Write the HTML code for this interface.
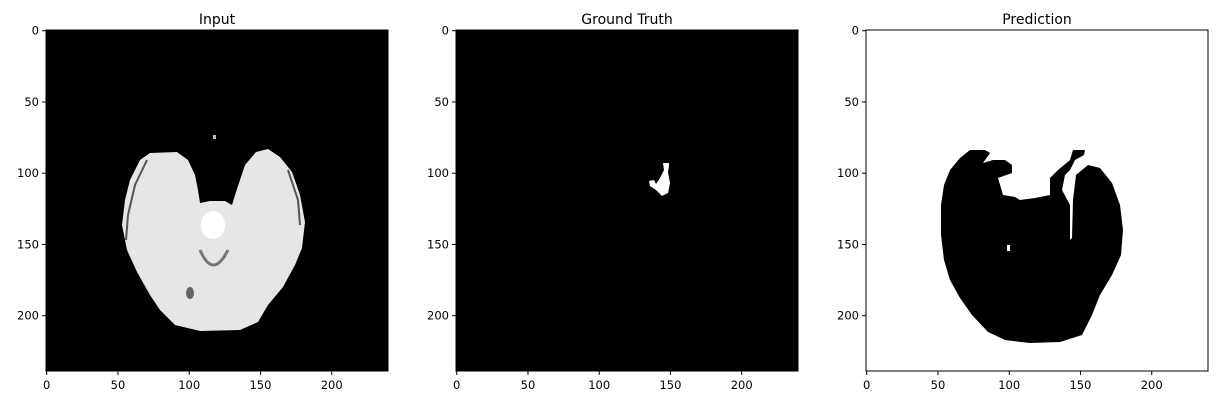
<!DOCTYPE html>
<html><head><meta charset="utf-8"><style>
body{margin:0;background:#fff;width:1222px;height:407px;overflow:hidden}
text{font-family:"DejaVu Sans","Liberation Sans",sans-serif;font-size:11.5px;fill:#000}
.t{font-size:14px}
</style></head><body>
<svg id="s" width="1222" height="407">
<g>
<rect x="46" y="30" width="342" height="341" fill="#000" stroke="#000"/>
<polygon fill="#e6e6e6" points="140,160 150,153 177,152 188,160 195,175 198,190 200,203 210,201 225,201 232,205 236,192 245,165 256,152 268,149 280,157 292,172 300,195 305,222 302,248 295,265 283,287 268,305 258,322 240,330 200,331 175,325 160,310 150,295 137,272 127,250 122,225 125,200 130,180"/>
<polyline fill="none" stroke="#555" stroke-width="2" points="147,160 135,185 128,215 126,240"/>
<polyline fill="none" stroke="#555" stroke-width="2" points="288,170 298,200 300,225"/>
<ellipse cx="213" cy="225" rx="12" ry="14" fill="#fff"/>
<path d="M200,250 Q213,280 228,250" stroke="#777" stroke-width="3" fill="none"/>
<ellipse cx="190" cy="293" rx="4" ry="6" fill="#666"/>
<rect x="213" y="135" width="3" height="4" fill="#bbb"/>
<text class="t" x="217" y="24" text-anchor="middle">Input</text>
</g>
<g>
<rect x="456" y="30" width="342" height="341" fill="#000" stroke="#000"/>
<polygon fill="#fff" points="663,163 669,163 669,166 668,172 670,183 668,193 662,196 656,190 650,186 649,181 654,180 656,184 660,178 664,170"/>
<text class="t" x="627" y="24" text-anchor="middle">Ground Truth</text>
</g>
<g>
<rect x="866" y="30" width="342" height="341" fill="#fff" stroke="#000"/>
<polygon fill="#000" points="950,170 960,158 970,150 985,150 990,153 983,163 993,160 1005,160 1012,165 1012,173 998,178 1003,195 1015,197 1020,200 1035,198 1050,195 1050,178 1058,170 1070,160 1073,150 1085,150 1084,155 1075,160 1070,170 1065,175 1062,190 1070,205 1070,240 1072,238 1073,200 1076,175 1088,165 1100,168 1112,183 1120,205 1123,230 1121,255 1112,275 1100,295 1092,315 1082,335 1060,342 1030,343 1005,340 988,332 972,315 960,298 950,280 944,260 941,235 941,205 944,185"/>
<rect x="1007" y="245" width="3" height="6" fill="#fff"/>
<text class="t" x="1037" y="24" text-anchor="middle">Prediction</text>
</g>
</svg>
<script>
const tickValues=[0,50,100,150,200];
const panelLefts=[46,456,866];
const s=document.getElementById('s');
const NS='http://www.w3.org/2000/svg';
const top0=30,sc=342/240;
function mk(tag,attrs){const e=document.createElementNS(NS,tag);for(const k in attrs)e.setAttribute(k,attrs[k]);s.appendChild(e);return e;}
panelLefts.forEach((L,pi)=>{
 tickValues.forEach(v=>{
  const x=L+(v+0.5)*sc, y=top0+(v+0.5)*sc;
  const a=mk('line',{x1:x,x2:x,y1:371,y2:375,stroke:'#000'});
  
  
  const t=mk('text',{x:x,y:389,'text-anchor':'middle'});t.textContent=v;
  
  
  const b=mk('line',{x1:L-4,x2:L,y1:y,y2:y,stroke:'#000'});
  
  
  const u=mk('text',{x:L-7,y:y+4,'text-anchor':'end'});u.textContent=v;
  
  
 });
});
</script>
</body></html>
